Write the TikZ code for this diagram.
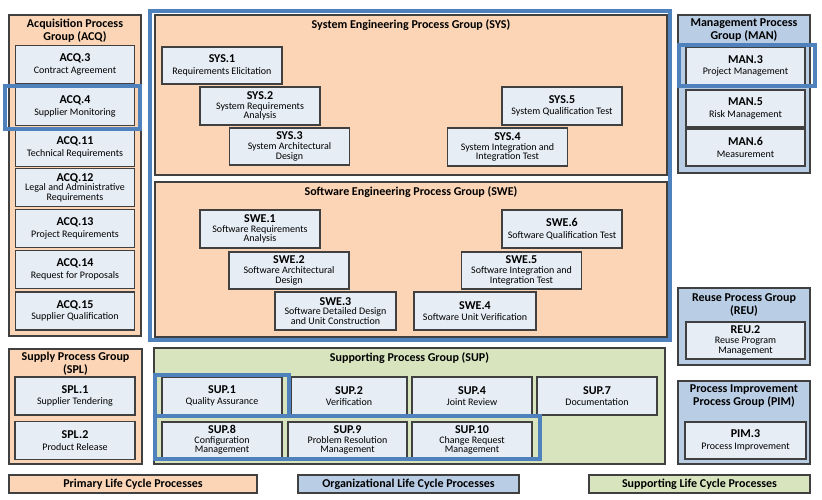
\documentclass[tikz,border=0pt]{standalone}
\usepackage{fontspec}
\setmainfont{Carlito}
\usepackage{tikz}

\definecolor{peach}{HTML}{FBD5B5}
\definecolor{boxfill}{HTML}{E6EDF5}
\definecolor{orgblue}{HTML}{B9CDE5}
\definecolor{supgreen}{HTML}{D7E4BD}
\definecolor{edge}{HTML}{404040}
\definecolor{hiblue}{HTML}{4F81BD}

\newcommand{\pid}[1]{{\fontsize{12}{10}\selectfont\bfseries #1}}
\newcommand{\desctext}{\fontsize{10}{9.6}\selectfont\lineskiplimit-6pt\relax}

\begin{document}
\begin{tikzpicture}[x=1pt, y=-1pt,
  every node/.style={font=\desctext},
  grp/.style={draw=edge, line width=1.1pt, inner sep=0pt},
  grptitle/.style={font=\fontsize{12}{13}\selectfont\bfseries, align=center, inner sep=0pt},
  proc/.style={draw=edge, line width=1.1pt, fill=boxfill, align=center, inner sep=0.5pt,
    minimum width=120, minimum height=38},
  bar/.style={draw=edge, line width=1.1pt, inner sep=0pt, minimum height=18,
    font=\fontsize{12}{13}\selectfont\bfseries},
  hilite/.style={draw=hiblue, line width=4pt}]

\useasboundingbox (0,0) rectangle (822,500);

% --- Acquisition group (left column) ---
\node[grp, fill=peach, minimum width=132, minimum height=321] (acq) at (75,175.5) {};
\node[grptitle] (acqt) at (75,30.5) {Acquisition Process\\Group (ACQ)};
\node[proc, minimum width=119] (acq3)  at (75,64.5)  {\pid{ACQ.3}\\[2pt]Contract Agreement};
\node[proc, minimum width=119] (acq4)  at (75,106.5) {\pid{ACQ.4}\\[2pt]Supplier Monitoring};
\node[proc, minimum width=119] (acq11) at (75,147.5) {\pid{ACQ.11}\\[2pt]Technical Requirements};
\node[proc, minimum width=119] (acq12) at (75,187.5) {\pid{ACQ.12}\\Legal and Administrative\\Requirements};
\node[proc, minimum width=119] (acq13) at (75,228.5) {\pid{ACQ.13}\\[2pt]Project Requirements};
\node[proc, minimum width=119] (acq14) at (75,269.5) {\pid{ACQ.14}\\[2pt]Request for Proposals};
\node[proc, minimum width=119] (acq15) at (75,311)   {\pid{ACQ.15}\\[2pt]Supplier Qualification};

% --- Supply group ---
\node[grp, fill=peach, minimum width=133, minimum height=115] (spl) at (75.5,406.5) {};
\node[grptitle] (splt) at (75.5,364) {Supply Process Group\\(SPL)};
\node[proc] (spl1) at (75,396)   {\pid{SPL.1}\\[2pt]Supplier Tendering};
\node[proc] (spl2) at (75,440.5) {\pid{SPL.2}\\[2pt]Product Release};

% --- System engineering group ---
\node[grp, fill=peach, minimum width=512, minimum height=160] (sys) at (411,95) {};
\node[grptitle] (syst) at (411,25) {System Engineering Process Group (SYS)};
\node[proc, minimum height=37] (sys1) at (222,65.5)  {\pid{SYS.1}\\[2pt]Requirements Elicitation};
\node[proc] (sys2) at (260,106)   {\pid{SYS.2}\\System Requirements\\Analysis};
\node[proc, minimum height=37] (sys3) at (289.5,146.5) {\pid{SYS.3}\\System Architectural\\Design};
\node[proc] (sys5) at (562,106)   {\pid{SYS.5}\\[2pt]System Qualification Test};
\node[proc] (sys4) at (507.5,147) {\pid{SYS.4}\\System Integration and\\Integration Test};

% --- Software engineering group ---
\node[grp, fill=peach, minimum width=512, minimum height=155] (swe) at (411,259.5) {};
\node[grptitle] (swet) at (411,192) {Software Engineering Process Group (SWE)};
\node[proc] (swe1) at (260,229)   {\pid{SWE.1}\\Software Requirements\\Analysis};
\node[proc, minimum height=37] (swe2) at (289,270.5) {\pid{SWE.2}\\Software Architectural\\Design};
\node[proc, minimum width=121] (swe3) at (335.5,311) {\pid{SWE.3}\\Software Detailed Design\\and Unit Construction};
\node[proc] (swe6) at (562,229)   {\pid{SWE.6}\\[2pt]Software Qualification Test};
\node[proc, minimum height=37] (swe5) at (521.5,270.5) {\pid{SWE.5}\\Software Integration and\\Integration Test};
\node[proc, minimum width=122] (swe4) at (475,311) {\pid{SWE.4}\\[2pt]Software Unit Verification};

% --- Supporting group ---
\node[grp, fill=supgreen, minimum width=511, minimum height=116] (sup) at (409.5,406) {};
\node[grptitle] (supt) at (409.5,358) {Supporting Process Group (SUP)};
\node[proc] (sup1) at (222,396) {\pid{SUP.1}\\[2pt]Quality Assurance};
\node[proc, minimum width=116] (sup2) at (349,396) {\pid{SUP.2}\\[2pt]Verification};
\node[proc] (sup4) at (472,396) {\pid{SUP.4}\\[2pt]Joint Review};
\node[proc] (sup7) at (597,396) {\pid{SUP.7}\\[2pt]Documentation};
\node[proc, minimum height=36] (sup8)  at (222,440)   {\pid{SUP.8}\\Configuration\\Management};
\node[proc, minimum height=36, minimum width=119] (sup9) at (347.5,440) {\pid{SUP.9}\\Problem Resolution\\Management};
\node[proc, minimum height=36] (sup10) at (472,440)   {\pid{SUP.10}\\Change Request\\Management};

% --- Management group (right column) ---
\node[grp, fill=orgblue, minimum width=132, minimum height=158] (man) at (744,94) {};
\node[grptitle] (mant) at (744,30.5) {Management Process\\Group (MAN)};
\node[proc, minimum width=119] (man3) at (745.5,66)    {\pid{MAN.3}\\[2pt]Project Management};
\node[proc, minimum width=119, minimum height=37] (man5) at (745.5,108.5) {\pid{MAN.5}\\[2pt]Risk Management};
\node[proc, minimum width=119, minimum height=37] (man6) at (745.5,147.5) {\pid{MAN.6}\\[2pt]Measurement};

% --- Reuse group ---
\node[grp, fill=orgblue, minimum width=132, minimum height=77] (reu) at (744,326.5) {};
\node[grptitle] (reut) at (744,304.5) {Reuse Process Group\\(REU)};
\node[proc, minimum width=119, minimum height=37] (reu2) at (745.5,340.5) {\pid{REU.2}\\Reuse Program\\Management};

% --- Process improvement group ---
\node[grp, fill=orgblue, minimum width=132, minimum height=83] (pim) at (744,422.5) {};
\node[grptitle] (pimt) at (744,396.5) {Process Improvement\\Process Group (PIM)};
\node[proc, minimum width=121, minimum height=37] (pim3) at (745.5,440.5) {\pid{PIM.3}\\[2pt]Process Improvement};

% --- Legend bars ---
\node[bar, fill=peach, minimum width=248] (primary) at (133,484) {Primary Life Cycle Processes};
\node[bar, fill=orgblue, minimum width=221] (organiz) at (408.5,484) {Organizational Life Cycle Processes};
\node[bar, fill=supgreen, minimum width=221] (support) at (699.5,484) {Supporting Life Cycle Processes};

% --- Blue highlight frames ---
\draw[hilite] (150,11) rectangle (670,340);
\draw[hilite] (5,86) rectangle (140,129);
\draw[hilite] (679,45) rectangle (815,86);
\draw[hilite] (155,375) rectangle (288.5,416);
\draw[hilite] (155,416) rectangle (540,459);

\end{tikzpicture}
\end{document}
